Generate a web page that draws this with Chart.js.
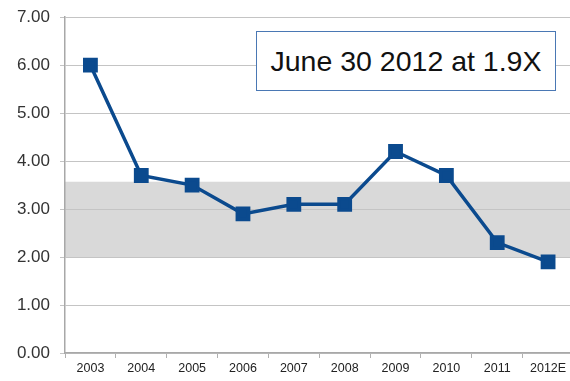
<!DOCTYPE html>
<html>
<head>
<meta charset="utf-8">
<script src="https://cdn.jsdelivr.net/npm/chart.js@4/dist/chart.umd.min.js"></script>
<style>
  html, body { margin: 0; padding: 0; background: #fff; overflow: hidden; }
  #wrap { position: relative; width: 585px; height: 381px; overflow: hidden; }
  #c { position: absolute; left: 0; top: -3px; }
  #note {
    position: absolute; left: 256px; top: 31px; width: 300px; height: 60px;
    border: 1.5px solid #4a78b4; background: #fff; box-sizing: border-box;
    font-family: "Liberation Sans", Arial, sans-serif; font-size: 28.5px; color: #111;
    display: flex; align-items: center; justify-content: center; padding-top: 1px;
  }
</style>
</head>
<body>
<div id="wrap">
  <canvas id="c" width="585" height="384" style="width:585px;height:384px"></canvas>
  <div id="note">June 30 2012 at 1.9X</div>
</div>
<script>
const categories = ["2003","2004","2005","2006","2007","2008","2009","2010","2011","2012E"];
const values = [6.0, 3.7, 3.5, 2.9, 3.1, 3.1, 4.2, 3.7, 2.3, 1.9];
const bandRange = [2.0, 3.57];
const yTicks = [0, 1, 2, 3, 4, 5, 6, 7];

const bandPlugin = {
  id: 'band',
  beforeDraw(chart) {
    const {ctx, chartArea, scales} = chart;
    const yTop = scales.y.getPixelForValue(bandRange[1]);
    const yBot = scales.y.getPixelForValue(bandRange[0]);
    ctx.save();
    ctx.fillStyle = '#d9d9d9';
    ctx.fillRect(chartArea.left, yTop, chartArea.right - chartArea.left, yBot - yTop);
    ctx.restore();
  }
};

new Chart(document.getElementById('c'), {
  type: 'line',
  data: {
    labels: categories,
    datasets: [{
      data: values,
      borderColor: '#0b4a8e',
      backgroundColor: '#0b4a8e',
      borderWidth: 3.5,
      pointStyle: 'rect',
      pointRadius: 8,
      pointHoverRadius: 8,
      tension: 0
    }]
  },
  options: {
    responsive: false,
    animation: false,
    events: [],
    layout: { padding: { top: 13, right: 3, left: 0, bottom: 0 } },
    plugins: { legend: { display: false }, tooltip: { enabled: false } },
    scales: {
      x: {
        offset: true,
        grid: { display: true, drawOnChartArea: false, offset: true, tickLength: 5, color: '#b0b0b0' },
        border: { color: '#a8a8a8', width: 1.5 },
        ticks: { color: '#222', font: { family: 'Liberation Sans', size: 12.5 }, padding: 3, maxRotation: 0, autoSkip: false },
        afterFit(s) { s.height = 28; }
      },
      y: {
        min: 0, max: 7,
        afterBuildTicks(s) { s.ticks = yTicks.map(v => ({ value: v })); },
        grid: { color: '#c4c4c4', lineWidth: 1, tickLength: 5 },
        border: { color: '#a8a8a8', width: 1.5 },
        ticks: { color: '#333', font: { family: 'Liberation Sans', size: 17 }, padding: 10,
                 callback: v => Number(v).toFixed(2) },
        afterFit(s) { s.width = 65; }
      }
    }
  },
  plugins: [bandPlugin]
});
</script>
</body>
</html>
